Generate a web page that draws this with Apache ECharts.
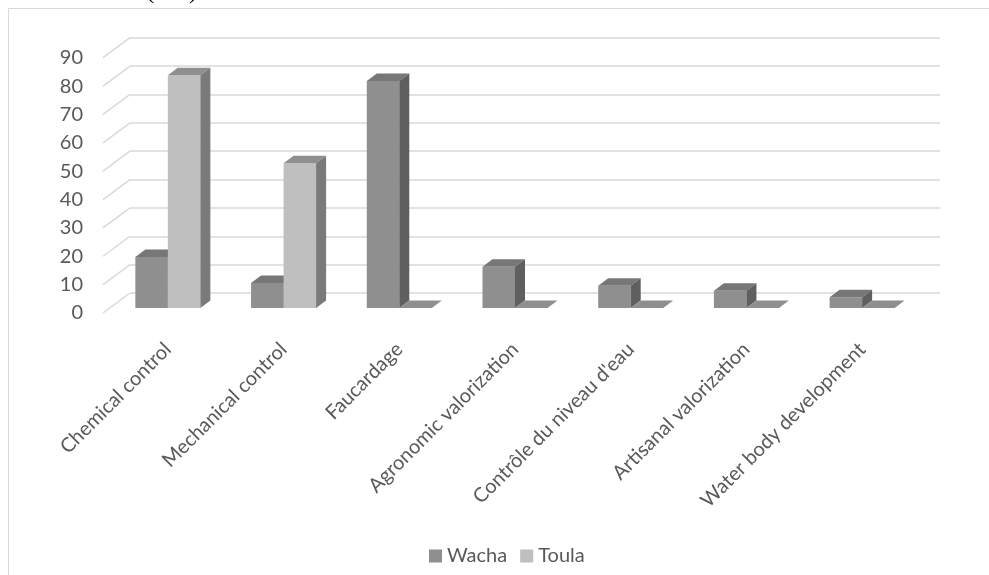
<!DOCTYPE html>
<html>
<head>
<meta charset="utf-8">
<script src="https://cdn.jsdelivr.net/npm/echarts@6/dist/echarts.min.js"></script>
<style>html,body{margin:0;padding:0;background:#fff}#c{width:989px;height:575px}</style>
</head>
<body>
<div id="c"></div>
<script>
const categories = ['Chemical control', 'Mechanical control', 'Faucardage', 'Agronomic valorization', "Contrôle du niveau d'eau", 'Artisanal valorization', 'Water body development'];
const wacha = [18, 8.8, 80, 14.5, 7.8, 6.1, 3.8];
const toula = [82, 51, 0, 0, 0, 0, 0];
const yTicks = [0, 10, 20, 30, 40, 50, 60, 70, 80, 90];
const seriesNames = ['Wacha', 'Toula'];

const FONT = 'Lato';
const TXT = '#595959';
const GRIDC = '#d9d9d9';

const palette = {
  Wacha: { front: '#8f8f8f', top: '#777777', side: '#5f5f5f' },
  Toula: { front: '#bfbfbf', top: '#8f8f8f', side: '#7a7a7a' }
};

function barRenderer(left, col) {
  return function (params, api) {
    const i = api.value(0), v = api.value(1);
    const base = api.coord([i, 0]);
    const top = api.coord([i, v]);
    const band = api.size([1, 0])[0];
    const w = band * 0.281;
    const x0 = left ? base[0] - w : base[0];
    const x1 = x0 + w;
    const yb = base[1], yt = top[1];
    const dx = 10, dy = -7.5;
    return {
      type: 'group',
      children: [
        { type: 'rect', shape: { x: x0, y: yt, width: w, height: yb - yt }, style: { fill: col.front } },
        { type: 'polygon', shape: { points: [[x0, yt], [x1, yt], [x1 + dx, yt + dy], [x0 + dx, yt + dy]] }, style: { fill: col.top } },
        { type: 'polygon', shape: { points: [[x1, yt], [x1 + dx, yt + dy], [x1 + dx, yb + dy], [x1, yb]] }, style: { fill: col.side } }
      ]
    };
  };
}

function diagRenderer(params, api) {
  const y = api.coord([0, api.value(1)])[1];
  const x = params.coordSys.x;
  return {
    type: 'line',
    shape: { x1: x - 27, y1: y + 20, x2: x, y2: y },
    style: { stroke: GRIDC, lineWidth: 1.5 }
  };
}

const hiddenX = (gi) => ({
  type: 'category', gridIndex: gi, data: categories,
  axisLine: { show: false }, axisTick: { show: false }, axisLabel: { show: false }, splitLine: { show: false }
});

const option = {
  animation: false,
  backgroundColor: '#ffffff',
  grid: [
    { left: 130, right: 49, top: 37.7, bottom: 282 },
    { left: 103, right: 76, top: 57.7, bottom: 262 },
    { left: 110, right: 69, top: 52.5, bottom: 267 }
  ],
  xAxis: [
    hiddenX(0),
    hiddenX(1),
    {
      type: 'category', gridIndex: 2, data: categories,
      axisLine: { show: false }, axisTick: { show: false }, splitLine: { show: false },
      axisLabel: { interval: 0, rotate: 45, margin: 38, color: TXT, fontFamily: FONT, fontSize: 20 }
    }
  ],
  yAxis: [
    { type: 'value', gridIndex: 0, min: 0, max: 90, interval: 10,
      axisLine: { show: false }, axisTick: { show: false }, axisLabel: { show: false },
      splitLine: { show: true, lineStyle: { color: GRIDC, width: 1.5 } } },
    { type: 'value', gridIndex: 1, min: 0, max: 90, interval: 10,
      axisLine: { show: false }, axisTick: { show: false }, splitLine: { show: false },
      axisLabel: { color: TXT, fontFamily: FONT, fontSize: 20, margin: 20 } },
    { type: 'value', gridIndex: 2, min: 0, max: 90, interval: 10,
      axisLine: { show: false }, axisTick: { show: false }, axisLabel: { show: false }, splitLine: { show: false } }
  ],
  legend: {
    data: seriesNames,
    left: 424, top: 541,
    icon: 'rect', itemWidth: 13, itemHeight: 13, itemGap: 13,
    textStyle: { color: TXT, fontFamily: FONT, fontSize: 20 }
  },
  graphic: [
    { type: 'line', shape: { x1: 8.5, y1: 8.5, x2: 989, y2: 8.5 }, style: { stroke: GRIDC, lineWidth: 1 } },
    { type: 'line', shape: { x1: 8.5, y1: 8.5, x2: 8.5, y2: 575 }, style: { stroke: GRIDC, lineWidth: 1 } },
    { type: 'text', left: 15, top: -22, style: { text: 'valorization (2%).', fill: '#000', font: '26px "Liberation Serif"' } }
  ],
  series: [
    { type: 'custom', name: 'diag', xAxisIndex: 0, yAxisIndex: 0, silent: true,
      data: yTicks.map(v => [0, v]), renderItem: diagRenderer, encode: { x: 0, y: 1 } },
    { type: 'custom', name: 'Wacha', xAxisIndex: 2, yAxisIndex: 2,
      itemStyle: { color: palette.Wacha.front },
      data: wacha.map((v, i) => [i, v]), renderItem: barRenderer(true, palette.Wacha), encode: { x: 0, y: 1 } },
    { type: 'custom', name: 'Toula', xAxisIndex: 2, yAxisIndex: 2,
      itemStyle: { color: palette.Toula.front },
      data: toula.map((v, i) => [i, v]), renderItem: barRenderer(false, palette.Toula), encode: { x: 0, y: 1 } }
  ]
};

echarts.init(document.getElementById('c'), null, { renderer: 'canvas' }).setOption(option);
</script>
</body>
</html>
